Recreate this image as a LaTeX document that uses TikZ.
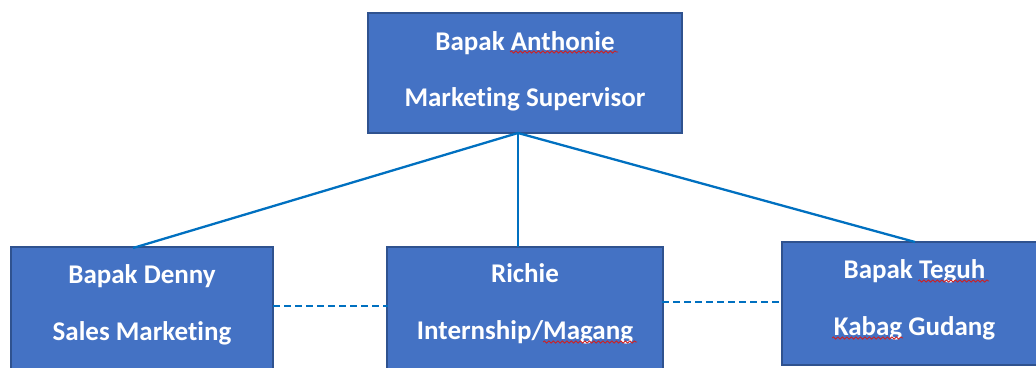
\documentclass[tikz,border=0pt]{standalone}
\usepackage{fontspec}
\setmainfont{Carlito}[Ligatures=NoCommon]
\usetikzlibrary{decorations.pathmorphing}
\definecolor{boxfill}{HTML}{4472C4}
\definecolor{boxedge}{HTML}{2F528F}
\definecolor{linkblue}{HTML}{0070C0}
\definecolor{spellred}{HTML}{D02020}
\begin{document}
\begin{tikzpicture}[x=1pt,y=-1pt,
  orgbox/.style={draw=boxedge,line width=1.6pt,fill=boxfill,rectangle,inner sep=0pt},
  lbl/.style={anchor=base,text=white,font=\fontsize{27}{32}\bfseries\selectfont,inner sep=0pt},
  reports/.style={draw=linkblue,line width=2.3pt},
  peer/.style={draw=linkblue,line width=2.3pt,dash pattern=on 7pt off 4pt},
  squiggle/.style={draw=spellred,line width=0.8pt,decorate,decoration={snake,segment length=4.5pt,amplitude=1.1pt}}]
\useasboundingbox (0,0) rectangle (1036,367);
\begin{scope}
\clip (0,0) rectangle (1036,367);
% boxes
\node[orgbox,minimum width=314pt,minimum height=120pt] (sup) at (525,73) {};
\node[orgbox,minimum width=262pt,minimum height=130pt] (sales) at (142,312) {};
\node[orgbox,minimum width=276pt,minimum height=130pt] (intern) at (525,312) {};
\node[orgbox,minimum width=265pt,minimum height=123pt] (gudang) at (914.5,303.5) {};
% connector points on the box edges
\coordinate (apex) at (518,133);
\coordinate (salesTop) at (133,248);
\coordinate (internTop) at (518,247);
\coordinate (gudangTop) at (915,242);
\draw[reports] (apex) -- (salesTop);
\draw[reports] (apex) -- (internTop);
\draw[reports] (apex) -- (gudangTop);
\coordinate (salesR) at (273,306);
\coordinate (internL) at (388,306);
\coordinate (internR) at (662,302);
\coordinate (gudangL) at (782,302);
\draw[peer] (salesR) -- (internL);
\draw[peer] (internR) -- (gudangL);
% labels
\node[lbl] (supA) at (525,50) {Bapak Anthonie};
\node[lbl] (supB) at (525,106) {Marketing Supervisor};
\node[lbl] (salesA) at (142,283) {Bapak Denny};
\node[lbl] (salesB) at (142,340) {Sales Marketing};
\node[lbl] (internA) at (525,282) {Richie};
\node[lbl] (internB) at (525,339) {Internship/Magang};
\node[lbl] (gudangA) at (914.5,278) {Bapak Teguh};
\node[lbl] (gudangB) at (914.5,335) {Kabag Gudang};
% spelling marks
\draw[squiggle] (510,52) -- (618,52);
\draw[squiggle] (543,342) -- (637,342);
\draw[squiggle] (918,281) -- (989,281);
\draw[squiggle] (832,338) -- (903,338);
\end{scope}
\end{tikzpicture}
\end{document}
